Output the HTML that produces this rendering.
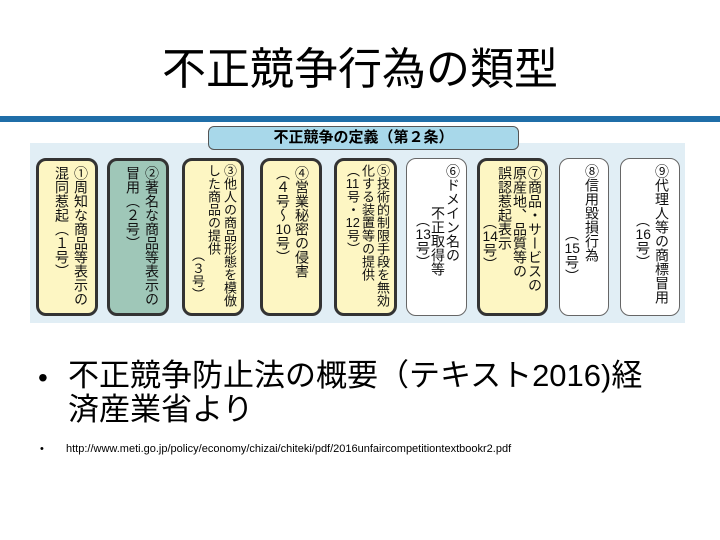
<!DOCTYPE html>
<html><head><meta charset="utf-8"><style>
body{margin:0;width:720px;height:540px;background:#fff;position:relative;overflow:hidden;font-family:"Liberation Sans","Noto Sans CJK JP",sans-serif}
.a{position:absolute}
.b{position:absolute;top:158px;height:158px;border-radius:10px;box-sizing:border-box;writing-mode:vertical-rl;font-size:14px;line-height:19px;padding:5px 7px 0 0;color:#111;overflow:hidden;white-space:nowrap}
.y{background:#fdf6c3;border:3px solid #333}
.w{background:#fff;border:1.5px solid #666}
.t{background:#9fc7b8;border:3px solid #333}
.c{text-combine-upright:all}
</style></head><body>
<div class="a" style="left:0;top:40px;width:720px;text-align:center;font-size:44px;line-height:60px">不正競争行為の類型</div>
<div class="a" style="left:0;top:116px;width:720px;height:6px;background:#1f6ea8"></div>
<div class="a" style="left:30px;top:143px;width:655px;height:180px;background:#e1eef5"></div>
<div class="a" style="left:208px;top:126px;width:311px;height:24px;background:#a8d8ea;border:1px solid #555;border-radius:6px;box-sizing:border-box;text-align:center;font-weight:bold;font-size:15px;line-height:22px">不正競争の定義（第２条）</div>
<div class="b y" style="left:36px;width:62px;padding-right:5px">①周知な商品等表示の<br>混同惹起（１号）</div>
<div class="b t" style="left:107px;width:62px;padding-right:5px">②著名な商品等表示の<br>冒用（２号）</div>
<div class="b y" style="left:182px;width:62px;padding-right:4px;line-height:16px;font-size:13px;padding-top:3px">③他人の商品形態を模倣<br>した商品の提供<br>　　　　　　　（３号）</div>
<div class="b y" style="left:260px;width:62px;padding-right:8px">④営業秘密の侵害<br>（４号〜<span class="c">10</span>号）</div>
<div class="b y" style="left:334px;width:63px;padding-right:4px;line-height:15px;font-size:13px;padding-top:3px">⑤技術的制限手段を無効<br>化する装置等の提供<br>（<span class="c">11</span>号・<span class="c">12</span>号）</div>
<div class="b w" style="left:406px;width:61px;padding-right:6px;line-height:15px">⑥ドメイン名の<br>　　　不正取得等<br>　　　　（<span class="c">13</span>号）</div>
<div class="b y" style="left:477px;width:71px;padding-right:3px;line-height:15px">⑦商品・サービスの<br>原産地、品質等の<br>誤認惹起表示<br>　　　　（<span class="c">14</span>号）</div>
<div class="b w" style="left:559px;width:50px;padding-right:6px;line-height:20px">⑧信用毀損行為<br>　　　　　（<span class="c">15</span>号）</div>
<div class="b w" style="left:620px;width:60px;padding-right:8px;line-height:19px">⑨代理人等の商標冒用<br>　　　　（<span class="c">16</span>号）</div>
<div class="a" style="left:38px;top:362px;font-size:28px;line-height:32px">•</div>
<div class="a" style="left:68px;top:359px;width:650px;font-size:31px;line-height:34px">不正競争防止法の概要（テキスト2016)経<br>済産業省より</div>
<div class="a" style="left:40px;top:443px;font-size:11px">•</div>
<div class="a" style="left:66px;top:443px;font-size:11px">http://www.meti.go.jp/policy/economy/chizai/chiteki/pdf/2016unfaircompetitiontextbookr2.pdf</div>
</body></html>
